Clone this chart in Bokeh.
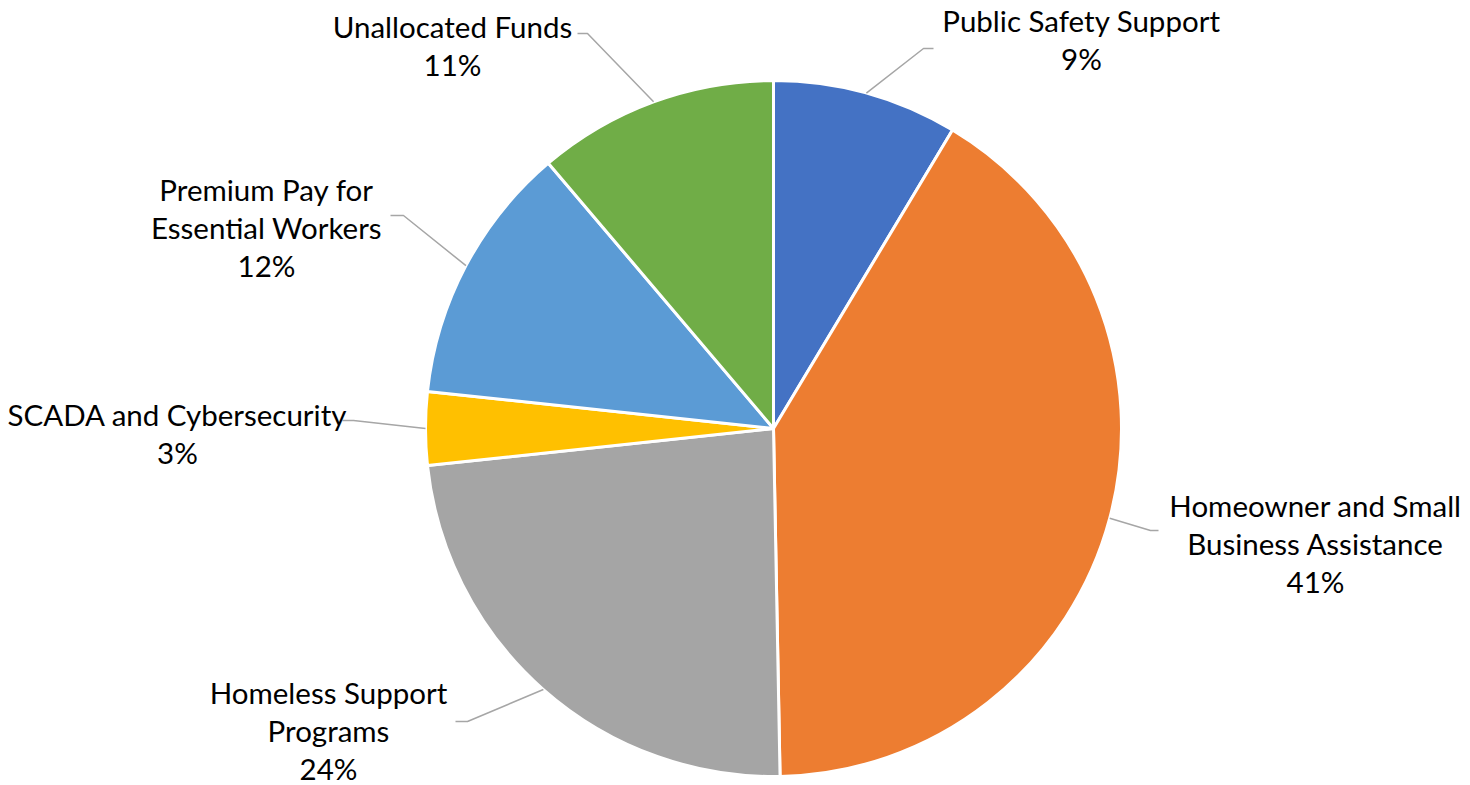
import math
from bokeh.plotting import figure
from bokeh.models import Range1d, ColumnDataSource
from bokeh.embed import file_html
from bokeh.resources import INLINE
from bokeh.core.properties import value

# ---- data ----
categories = [
    "Public Safety Support",
    "Homeowner and Small\nBusiness Assistance",
    "Homeless Support\nPrograms",
    "SCADA and Cybersecurity",
    "Premium Pay for\nEssential Workers",
    "Unallocated Funds",
]
shares = [8.6, 41.1, 23.6, 3.4, 12.1, 11.2]
colors = ["#4472C4", "#ED7D31", "#A5A5A5", "#FFC000", "#5B9BD5", "#70AD47"]

# ---- layout (page pixel coordinates, y down) ----
label_first_line = [(1081, 20), (1315, 505), (328, 692), (177, 414), (266, 189), (452, 26)]
leader_elbow = [(923, 48), (1150, 530), (467, 721), (353, 420), (403, 215), (587, 33)]
leader_end = [(933, 48), (1158, 530), (455, 721), (342, 420), (390, 215), (577, 33)]
LINE_GAP = 38

W, H = 1470, 785


def Y(ys):
    return H - ys


p = figure(width=W, height=H, x_range=Range1d(0, W), y_range=Range1d(0, H),
           output_backend="svg", toolbar_location=None, min_border=0)
p.axis.visible = False
p.grid.visible = False
p.outline_line_color = None
p.background_fill_color = "white"
p.border_fill_color = "white"

cx, cy, r = 773, Y(428), 348
total = sum(shares)
starts, ends, mids = [], [], []
cum = 0.0
for s in shares:
    a0 = math.pi / 2 - 2 * math.pi * cum / total
    cum += s
    a1 = math.pi / 2 - 2 * math.pi * cum / total
    starts.append(a1)
    ends.append(a0)
    mids.append((a0 + a1) / 2)

src = ColumnDataSource(dict(start=starts, end=ends, color=colors))
p.wedge(x=cx, y=cy, radius=r, start_angle="start", end_angle="end", direction="anticlock",
        fill_color="color", line_color="white", line_width=3, source=src)

# leader lines
xs, ys = [], []
for m, (ex, ey), (sx, sy) in zip(mids, leader_elbow, leader_end):
    px = cx + r * math.cos(m)
    py = cy + r * math.sin(m)
    xs.append([px, ex, sx])
    ys.append([py, Y(ey), Y(sy)])
p.multi_line(xs=xs, ys=ys, line_color="#A6A6A6", line_width=1.5)

# labels
tx, ty, tt = [], [], []
for cat, s, (lx, ly) in zip(categories, shares, label_first_line):
    pct = int(100 * s / total + 0.5)
    lines = cat.split("\n") + [f"{pct}%"]
    for i, line in enumerate(lines):
        tx.append(lx)
        ty.append(Y(ly + i * LINE_GAP))
        tt.append(line)
p.text(x=tx, y=ty, text=tt, text_font=value("Lato"), text_font_size="29.5px",
       text_align="center", text_baseline="middle", text_color="#000000")

open("out.html", "w").write(file_html(p, INLINE))
